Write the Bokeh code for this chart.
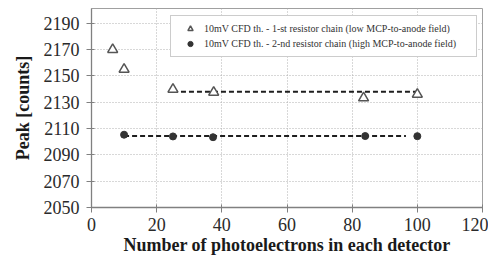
from bokeh.plotting import figure
from bokeh.models import Range1d, FixedTicker, Legend, LegendItem
from bokeh.embed import file_html
from bokeh.resources import INLINE

# Data
tri_x = [6.5, 10, 25, 37.5, 83.5, 100]
tri_y = [2170, 2155, 2139.8, 2137.5, 2133.3, 2136]
circ_x = [10, 25, 37.3, 84, 100]
circ_y = [2105.3, 2104, 2103.4, 2104.3, 2104.2]
fit1_x = [25, 100]
fit1_y = [2137.9, 2137.9]
fit2_x = [10, 96.5]
fit2_y = [2104.4, 2104.4]
x_ticks = [0, 20, 40, 60, 80, 100, 120]
y_ticks = [2050, 2070, 2090, 2110, 2130, 2150, 2170, 2190]
labels = ["10mV CFD th. - 1-st resistor chain (low MCP-to-anode field)",
          "10mV CFD th. - 2-nd resistor chain (high MCP-to-anode field)"]

FONT = "Liberation Serif"

p = figure(width=488, height=261, output_backend="svg", toolbar_location=None,
           x_range=Range1d(0, 120), y_range=Range1d(2050, 2201.2),
           min_border_left=91, min_border_right=6, min_border_top=8, min_border_bottom=54)
p.background_fill_color = "white"
p.border_fill_color = "white"
p.outline_line_color = "#a0a0a0"
p.outline_line_width = 1

p.axis.axis_line_color = "#808080"
p.axis.axis_line_width = 1.3
p.axis.major_tick_line_color = "#808080"
p.axis.major_tick_in = 3
p.axis.major_tick_out = 5
p.axis.minor_tick_line_color = None
p.axis.major_label_text_font = FONT
p.axis.major_label_text_font_size = "18px"
p.axis.major_label_text_color = "#2a2a2a"
p.axis.axis_label_text_font = FONT
p.axis.axis_label_text_font_size = "18px"
p.axis.axis_label_text_font_style = "bold"
p.axis.axis_label_text_color = "#1a1a1a"

p.xaxis.ticker = FixedTicker(ticks=x_ticks)
p.yaxis.ticker = FixedTicker(ticks=y_ticks)
p.xaxis.axis_label = "Number of photoelectrons in each detector"
p.yaxis.axis_label = "Peak [counts]"
p.xaxis.major_label_standoff = 5
p.xaxis.axis_label_standoff = 1
p.yaxis.major_label_standoff = 7
p.yaxis.axis_label_standoff = 8

p.grid.grid_line_color = "#b0b0b0"
p.grid.grid_line_dash = "1 2"
p.grid.grid_line_width = 1

p.line(fit1_x, fit1_y, line_color="#1e1e1e", line_width=2, line_dash="5 3")
p.line(fit2_x, fit2_y, line_color="#1e1e1e", line_width=2, line_dash="5 3")

r1 = p.scatter(tri_x, tri_y, marker="triangle", size=10, fill_color="white",
               line_color="#555555", line_width=1.5)
r2 = p.scatter(circ_x, circ_y, marker="circle", size=7, fill_color="#333333",
               line_color="#333333")

leg = Legend(items=[LegendItem(label=labels[0], renderers=[r1]),
                    LegendItem(label=labels[1], renderers=[r2])],
             location=(79, 150))
leg.label_text_font = FONT
leg.label_text_font_size = "10px"
leg.label_text_color = "#333333"
leg.glyph_width = 26
leg.glyph_height = 13
leg.label_height = 13
leg.label_standoff = 1
leg.label_width = 266
leg.padding = 6
leg.spacing = 2
leg.margin = 0
leg.border_line_color = "#999999"
leg.border_line_width = 1
leg.background_fill_alpha = 1
p.add_layout(leg, "center")

open("out.html", "w").write(file_html(p, INLINE))
